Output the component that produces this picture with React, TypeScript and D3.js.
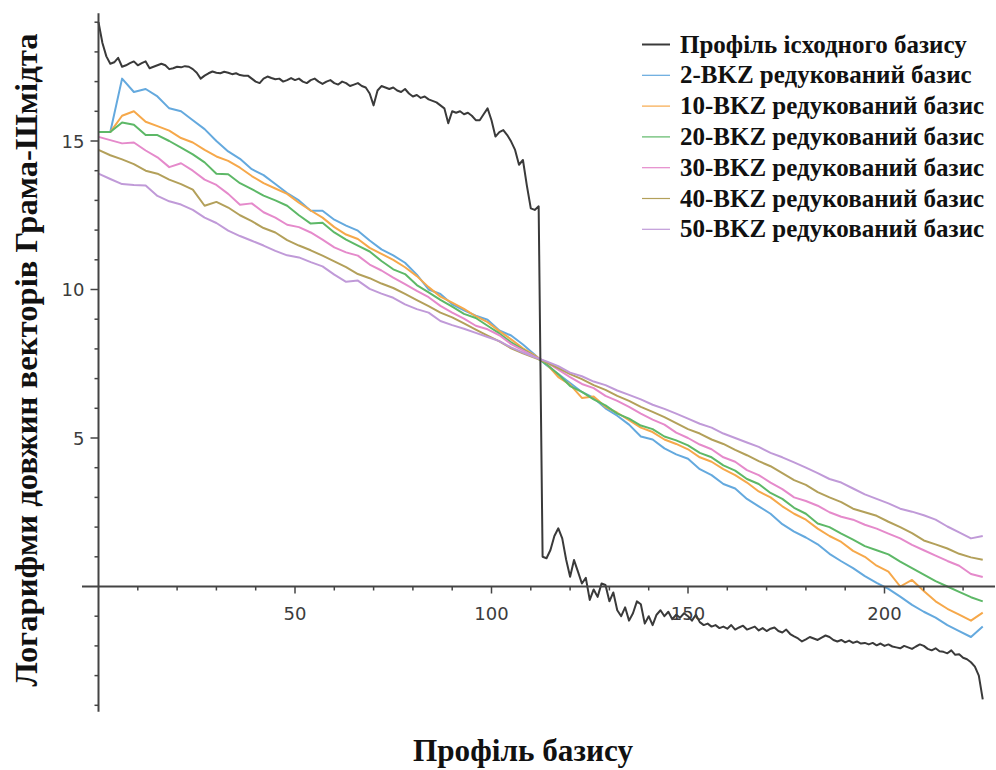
import React from 'react';
import * as d3 from 'd3';

// ---- DATA ----
// original basis profile, one value per index 0..225
const originalProfile = [
  19.0, 18.3, 17.85, 17.6, 17.65, 17.8, 17.5, 17.55, 17.62, 17.68,
  17.55, 17.62, 17.68, 17.45, 17.5, 17.55, 17.6, 17.55, 17.42, 17.45,
  17.5, 17.48, 17.52, 17.5, 17.42, 17.3, 17.1, 17.2, 17.28, 17.34,
  17.3, 17.28, 17.33, 17.3, 17.25, 17.28, 17.22, 17.2, 17.2, 17.1,
  17.0, 16.95, 17.1, 17.17, 17.12, 17.08, 17.1, 17.0, 17.05, 17.12,
  17.05, 17.1, 17.0, 16.95, 17.05, 17.1, 17.0, 16.92, 17.0, 17.05,
  16.95, 16.9, 17.0, 16.95, 16.85, 16.9, 16.95, 16.85, 16.8, 16.6,
  16.2, 16.7, 16.85, 16.8, 16.75, 16.8, 16.7, 16.65, 16.75, 16.6,
  16.5, 16.55, 16.45, 16.5, 16.4, 16.35, 16.3, 16.2, 16.1, 15.6,
  16.0, 15.95, 16.0, 15.9, 15.95, 15.85, 15.7, 15.7, 15.9, 16.1,
  15.7, 15.15, 15.3, 15.37, 15.2, 14.98, 14.7, 14.2, 14.36, 13.5,
  12.73, 12.68, 12.8, 1.0, 0.95, 1.23, 1.7, 1.96, 1.62, 0.9,
  0.33, 0.89, 0.5, 0.1, 0.29, -0.45, -0.1, -0.35, 0.1, 0.05,
  -0.5, -0.2, -0.8, -1.0, -0.7, -1.15, -0.9, -0.5, -0.6, -1.25,
  -1.0, -1.3, -0.95, -0.8, -1.0, -0.85, -1.1, -0.95, -1.05, -0.9,
  -1.0, -1.15, -0.95, -1.2, -1.3, -1.25, -1.35, -1.3, -1.4, -1.35,
  -1.42, -1.3, -1.45, -1.38, -1.32, -1.45, -1.4, -1.35, -1.48, -1.4,
  -1.5, -1.42, -1.38, -1.5, -1.55, -1.45, -1.6, -1.68, -1.75, -1.85,
  -1.78, -1.7, -1.75, -1.8, -1.72, -1.65, -1.7, -1.8, -1.85, -1.8,
  -1.88, -1.82, -1.9, -1.85, -1.92, -1.9, -1.95, -1.9, -1.98, -1.92,
  -2.0, -1.95, -2.02, -2.05, -2.08, -2.0, -2.05, -2.1, -2.02, -1.95,
  -2.0, -2.1, -2.15, -2.08, -2.18, -2.2, -2.25, -2.15, -2.3, -2.28,
  -2.4, -2.45, -2.55, -2.7, -3.0, -3.8,
];

// BKZ reduced profiles, one value every 3 indices (0, 3, ..., 225)
const BKZ_STEP = 3;
const bkz2 = [
  15.3, 15.3, 17.1, 16.65, 16.75, 16.5, 16.1, 16.0, 15.7, 15.4,
  15.0, 14.65, 14.4, 14.05, 13.85, 13.55, 13.25, 13.0, 12.65, 12.65,
  12.35, 12.15, 11.98, 11.65, 11.35, 11.15, 10.9, 10.5, 10.0, 9.85,
  9.5, 9.3, 9.12, 8.98, 8.62, 8.45, 8.15, 7.8, 7.45, 7.15,
  6.85, 6.55, 6.35, 6.0, 5.75, 5.45, 5.05, 4.95, 4.65, 4.45,
  4.3, 3.95, 3.75, 3.45, 3.3, 2.95, 2.7, 2.45, 2.1, 1.85,
  1.65, 1.42, 1.1, 0.85, 0.62, 0.35, 0.12, -0.08, -0.34, -0.62,
  -0.85, -1.05, -1.3, -1.5, -1.7, -1.35,
];
const bkz10 = [
  15.3, 15.3, 15.85, 16.0, 15.65, 15.5, 15.35, 15.1, 14.95, 14.7,
  14.48, 14.33, 14.1, 13.82, 13.58, 13.4, 13.22, 12.92, 12.66, 12.42,
  12.1, 11.85, 11.7, 11.4, 11.2, 11.0, 10.75, 10.45, 10.08, 9.76,
  9.56, 9.35, 9.1, 8.9, 8.6, 8.32, 8.02, 7.78, 7.5, 7.05,
  6.8, 6.35, 6.4, 6.05, 5.85, 5.6, 5.35, 5.2, 4.95, 4.8,
  4.62, 4.35, 4.2, 3.95, 3.75, 3.5, 3.2, 3.0, 2.7, 2.45,
  2.25, 1.95, 1.7, 1.5, 1.2, 1.0, 0.7, 0.5, 0.0, 0.22,
  -0.15, -0.5, -0.75, -0.95, -1.15, -0.88,
];
const bkz20 = [
  15.3, 15.3, 15.62, 15.55, 15.2, 15.2, 15.0, 14.78, 14.55, 14.28,
  13.9, 13.88, 13.58, 13.38, 13.16, 13.0, 12.82, 12.5, 12.22, 12.25,
  11.92, 11.68, 11.48, 11.28, 10.96, 10.68, 10.52, 10.15, 9.9, 9.65,
  9.42, 9.18, 9.04, 8.78, 8.52, 8.22, 7.98, 7.75, 7.48, 7.15,
  6.75, 6.55, 6.3, 6.1, 5.82, 5.65, 5.42, 5.3, 5.05, 4.92,
  4.75, 4.5, 4.35, 4.08, 3.9, 3.62, 3.45, 3.15, 2.95, 2.65,
  2.45, 2.12, 2.0, 1.78, 1.58, 1.36, 1.22, 1.08, 0.84, 0.62,
  0.4, 0.18, 0.0, -0.18, -0.36, -0.5,
];
const bkz30 = [
  15.14, 15.03, 14.92, 14.95, 14.68, 14.45, 14.12, 14.25, 14.0, 13.7,
  13.52, 13.22, 12.85, 12.9, 12.6, 12.42, 12.18, 12.1, 11.92, 11.68,
  11.42, 11.25, 11.14, 10.84, 10.64, 10.4, 10.18, 9.95, 9.74, 9.45,
  9.22, 9.02, 8.78, 8.66, 8.46, 8.16, 7.95, 7.74, 7.55, 7.3,
  7.05, 6.82, 6.68, 6.42, 6.25, 6.05, 5.82, 5.62, 5.45, 5.18,
  5.0, 4.78, 4.62, 4.35, 4.2, 3.92, 3.75, 3.5, 3.28, 3.0,
  2.88, 2.72, 2.5, 2.35, 2.25, 2.08, 1.95, 1.78, 1.62, 1.4,
  1.22, 1.04, 0.86, 0.7, 0.42, 0.32,
];
const bkz40 = [
  14.7, 14.52, 14.38, 14.22, 14.0, 13.9, 13.7, 13.55, 13.36, 12.82,
  12.95, 12.76, 12.5, 12.3, 12.07, 11.92, 11.66, 11.48, 11.32, 11.14,
  10.95, 10.75, 10.52, 10.38, 10.2, 10.05, 9.85, 9.64, 9.44, 9.22,
  9.06, 8.86, 8.65, 8.45, 8.25, 8.02, 7.85, 7.7, 7.55, 7.35,
  7.15, 6.98, 6.78, 6.62, 6.42, 6.25, 6.05, 5.88, 5.7, 5.5,
  5.3, 5.15, 4.95, 4.8, 4.6, 4.42, 4.22, 4.05, 3.82, 3.58,
  3.42, 3.18, 3.0, 2.84, 2.62, 2.5, 2.38, 2.18, 2.0, 1.8,
  1.55, 1.42, 1.28, 1.1, 0.98, 0.9,
];
const bkz50 = [
  13.9, 13.72, 13.55, 13.52, 13.5, 13.15, 12.97, 12.86, 12.68, 12.42,
  12.24, 11.98, 11.8, 11.64, 11.48, 11.3, 11.15, 11.08, 10.92, 10.78,
  10.5, 10.26, 10.3, 10.02, 9.86, 9.72, 9.5, 9.34, 9.22, 8.94,
  8.8, 8.68, 8.54, 8.4, 8.26, 8.05, 7.88, 7.72, 7.58, 7.42,
  7.2, 7.08, 6.9, 6.78, 6.6, 6.45, 6.3, 6.12, 5.98, 5.82,
  5.65, 5.48, 5.35, 5.15, 5.0, 4.85, 4.7, 4.5, 4.35, 4.18,
  4.0, 3.82, 3.62, 3.5, 3.3, 3.1, 2.95, 2.8, 2.62, 2.52,
  2.4, 2.25, 2.02, 1.82, 1.62, 1.7,
];

const seriesLabels = [
  'Профіль іcходного базису',
  '2-BKZ редукований базис',
  '10-BKZ редукований базис',
  '20-BKZ редукований базис',
  '30-BKZ редукований базис',
  '40-BKZ редукований базис',
  '50-BKZ редукований базис',
];
const seriesColors = ['#3a3a3a', '#64a9de', '#f6a84a', '#5db867', '#e58acb', '#b3a05a', '#c09ad8'];
const bkzSeries = [bkz2, bkz10, bkz20, bkz30, bkz40, bkz50];

const xMajorTicks = [50, 100, 150, 200];
const xMinorTicks = [10, 20, 30, 40, 60, 70, 80, 90, 110, 120, 130, 140, 160, 170, 180, 190, 210, 220];
const yMajorTicks = [5, 10, 15];
const yMinorTicks = [-4, -3, -2, -1, 1, 2, 3, 4, 6, 7, 8, 9, 11, 12, 13, 14, 16, 17, 18, 19];

const xTitle = 'Профіль базису';
const yTitle = 'Логарифми довжин векторів Грама-Шмідта';

export default function App() {
  const W = 996;
  const H = 770;
  const x = d3.scaleLinear().domain([0, 200]).range([98.5, 884.5]);
  const y = d3.scaleLinear().domain([0, 15]).range([586.5, 141]);

  const line = d3
    .line<[number, number]>()
    .x((d) => x(d[0]))
    .y((d) => y(d[1]));

  const origPts: [number, number][] = originalProfile.map((v, i) => [i, v]);
  const bkzPts = bkzSeries.map((arr) => arr.map((v, i) => [i * BKZ_STEP, v] as [number, number]));

  const axisColor = '#444';
  const tickFont = 'DejaVu Sans, sans-serif';
  const serif = 'Liberation Serif, Times New Roman, serif';

  const legendX0 = 642;
  const legendX1 = 670;
  const legendTextX = 680;
  const legendY0 = 44.5;
  const legendDy = 30.8;

  return (
    <svg
      width={W}
      height={H}
      viewBox={`0 0 ${W} ${H}`}
      style={{ position: 'absolute', left: 0, top: 0, background: '#fff' }}
    >
      <rect x={0} y={0} width={W} height={H} fill="#fff" />
      {/* data lines (colored first, black on top) */}
      {bkzPts.map((pts, i) => (
        <path
          key={i}
          d={line(pts) || ''}
          fill="none"
          stroke={seriesColors[i + 1]}
          strokeWidth={2}
          strokeLinejoin="round"
        />
      ))}
      <path d={line(origPts) || ''} fill="none" stroke={seriesColors[0]} strokeWidth={2} strokeLinejoin="round" />

      {/* axes */}
      <line x1={82} x2={995} y1={y(0)} y2={y(0)} stroke={axisColor} strokeWidth={2} />
      <line x1={x(0)} x2={x(0)} y1={y(19.3)} y2={y(-4.22)} stroke={axisColor} strokeWidth={2} />
      {xMinorTicks.map((t) => (
        <line key={'xm' + t} x1={x(t)} x2={x(t)} y1={y(0)} y2={y(0) + 4} stroke={axisColor} strokeWidth={1.5} />
      ))}
      {xMajorTicks.map((t) => (
        <g key={'xM' + t}>
          <line x1={x(t)} x2={x(t)} y1={y(0)} y2={y(0) + 7} stroke={axisColor} strokeWidth={1.5} />
          <text
            x={x(t)}
            y={y(0) + 33}
            textAnchor="middle"
            fontFamily={tickFont}
            fontSize={18}
            fill="#3c3c3c"
          >
            {t}
          </text>
        </g>
      ))}
      {yMinorTicks.map((t) => (
        <line key={'ym' + t} x1={x(0) - 4} x2={x(0)} y1={y(t)} y2={y(t)} stroke={axisColor} strokeWidth={1.5} />
      ))}
      {yMajorTicks.map((t) => (
        <g key={'yM' + t}>
          <line x1={x(0) - 8} x2={x(0)} y1={y(t)} y2={y(t)} stroke={axisColor} strokeWidth={1.5} />
          <text
            x={x(0) - 14}
            y={y(t) + 6.5}
            textAnchor="end"
            fontFamily={tickFont}
            fontSize={18}
            fill="#3c3c3c"
          >
            {t}
          </text>
        </g>
      ))}

      {/* axis titles */}
      <text
        x={523}
        y={761}
        textAnchor="middle"
        fontFamily={serif}
        fontWeight="bold"
        fontSize={31}
        fill="#111"
        textLength={220}
        lengthAdjust="spacingAndGlyphs"
      >
        {xTitle}
      </text>
      <text
        transform={`translate(37, 360) rotate(-90)`}
        textAnchor="middle"
        fontFamily={serif}
        fontWeight="bold"
        fontSize={31}
        fill="#111"
        textLength={653}
        lengthAdjust="spacingAndGlyphs"
      >
        {yTitle}
      </text>

      {/* legend */}
      {seriesLabels.map((label, i) => {
        const cy = legendY0 + i * legendDy;
        return (
          <g key={'lg' + i}>
            <line
              x1={legendX0}
              x2={legendX1}
              y1={cy}
              y2={cy}
              stroke={seriesColors[i]}
              strokeWidth={i === 0 ? 2 : 1.2}
            />
            <text
              x={legendTextX}
              y={cy + 8}
              fontFamily={serif}
              fontWeight="bold"
              fontSize={25}
              fill="#111"
            >
              {label}
            </text>
          </g>
        );
      })}
    </svg>
  );
}
